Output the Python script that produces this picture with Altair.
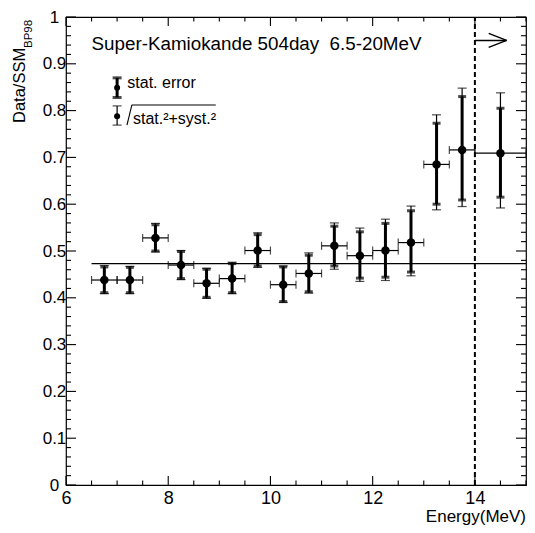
import altair as alt
import pandas as pd

# ---- data ----
energy  = [6.75, 7.25, 7.75, 8.25, 8.75, 9.25, 9.75, 10.25, 10.75, 11.25, 11.75, 12.25, 12.75, 13.25, 13.75, 14.5]
bin_lo  = [6.5, 7.0, 7.5, 8.0, 8.5, 9.0, 9.5, 10.0, 10.5, 11.0, 11.5, 12.0, 12.5, 13.0, 13.5, 14.0]
bin_hi  = [7.0, 7.5, 8.0, 8.5, 9.0, 9.5, 10.0, 10.5, 11.0, 11.5, 12.0, 12.5, 13.0, 13.5, 14.0, 15.0]
ratio   = [0.438, 0.438, 0.528, 0.470, 0.431, 0.441, 0.501, 0.428, 0.452, 0.511, 0.490, 0.501, 0.518, 0.685, 0.716, 0.709]
stat_lo = [0.411, 0.411, 0.500, 0.441, 0.401, 0.411, 0.468, 0.392, 0.413, 0.468, 0.442, 0.444, 0.455, 0.600, 0.609, 0.615]
stat_hi = [0.466, 0.465, 0.556, 0.499, 0.461, 0.473, 0.535, 0.466, 0.491, 0.553, 0.541, 0.559, 0.586, 0.773, 0.830, 0.805]
syst_lo = [0.409, 0.409, 0.498, 0.439, 0.399, 0.409, 0.465, 0.390, 0.410, 0.461, 0.435, 0.437, 0.447, 0.588, 0.595, 0.592]
syst_hi = [0.469, 0.467, 0.559, 0.501, 0.463, 0.476, 0.539, 0.468, 0.496, 0.560, 0.549, 0.568, 0.596, 0.791, 0.848, 0.838]

mean_ratio = 0.473
mean_range = [6.5, 15.0]
cut_energy = 14.0

x_major_ticks = [6, 8, 10, 12, 14]
x_minor_ticks = [6.5, 7, 7.5, 8.5, 9, 9.5, 10.5, 11, 11.5, 12.5, 13, 13.5, 14.5, 15]
y_major_ticks = [0, 0.1, 0.2, 0.3, 0.4, 0.5, 0.6, 0.7, 0.8, 0.9, 1.0]
y_minor_ticks = [round(i * 0.02, 2) for i in range(51) if i % 5 != 0]

title_text = "Super-Kamiokande 504day \u00a06.5-20MeV"
x_title = "Energy(MeV)"
y_title_main = "Data/SSM"
y_title_sub = "BP98"
legend_stat = "stat. error"
legend_syst = "stat.²+syst.²"

FONT = "Liberation Sans"
PAD_LEFT = 58
W, H = 460, 468
PAD_BOTTOM = 40

df = pd.DataFrame(dict(energy=energy, bin_lo=bin_lo, bin_hi=bin_hi, ratio=ratio,
                       stat_lo=stat_lo, stat_hi=stat_hi, syst_lo=syst_lo, syst_hi=syst_hi))

xscale = alt.Scale(domain=[6, 15], nice=False, zero=False)
yscale = alt.Scale(domain=[0, 1], nice=False, zero=False)
xaxis = alt.Axis(values=x_major_ticks, format="d", title=None, ticks=False, tickSize=0, domain=False,
                 grid=False, labelFont=FONT, labelFontSize=18, labelColor="black",
                 labelPadding=4, labelBaseline="top", labelFlush=False)
yaxis = alt.Axis(values=y_major_ticks, format=".1~f", title=None, ticks=False, tickSize=0, domain=False,
                 grid=False, labelFont=FONT, labelFontSize=17, labelColor="black",
                 labelPadding=12, labelAlign="center", labelBaseline="middle", labelFlush=False)


def X(f, **kw):
    return alt.X(f + ":Q", scale=xscale, axis=xaxis, **kw)


def Y(f, **kw):
    return alt.Y(f + ":Q", scale=yscale, axis=yaxis, **kw)


base = alt.Chart(df)

syst_bar = base.mark_rule(color="black", strokeWidth=1.2).encode(x=X("energy"), y=Y("syst_lo"), y2="syst_hi")
syst_cap_lo = base.mark_tick(color="black", orient="horizontal", size=9, thickness=1.2).encode(x=X("energy"), y=Y("syst_lo"))
syst_cap_hi = base.mark_tick(color="black", orient="horizontal", size=9, thickness=1.2).encode(x=X("energy"), y=Y("syst_hi"))
stat_bar = base.mark_rule(color="black", strokeWidth=3).encode(x=X("energy"), y=Y("stat_lo"), y2="stat_hi")
stat_cap_lo = base.mark_tick(color="black", orient="horizontal", size=8, thickness=3).encode(x=X("energy"), y=Y("stat_lo"))
stat_cap_hi = base.mark_tick(color="black", orient="horizontal", size=8, thickness=3).encode(x=X("energy"), y=Y("stat_hi"))
hbar = base.mark_rule(color="black", strokeWidth=1.2).encode(x=X("bin_lo"), x2="bin_hi", y=Y("ratio"))
hcap_lo = base.mark_tick(color="black", orient="vertical", size=8, thickness=1.2).encode(x=X("bin_lo"), y=Y("ratio"))
hcap_hi = base.mark_tick(color="black", orient="vertical", size=8, thickness=1.2).encode(x=X("bin_hi"), y=Y("ratio"))
points = base.mark_circle(color="black", opacity=1, size=72).encode(x=X("energy"), y=Y("ratio"))

mean_df = pd.DataFrame(dict(x=[mean_range[0]], x2=[mean_range[1]], y=[mean_ratio]))
mean_line = alt.Chart(mean_df).mark_rule(color="black", strokeWidth=1.3).encode(x=X("x"), x2="x2", y=Y("y"))

cut_df = pd.DataFrame(dict(x=[cut_energy], y=[0.0], y2=[1.0]))
cut_line = alt.Chart(cut_df).mark_rule(color="black", strokeWidth=2, strokeDash=[5, 3]).encode(
    x=X("x"), y=Y("y"), y2="y2")

# arrow (annotation, data space)
arrow_df = pd.DataFrame(dict(x=[14.0, 14.27, 14.27], x2=[14.62, 14.62, 14.62],
                             y=[0.95, 0.965, 0.935], y2=[0.95, 0.95, 0.95]))
arrow = alt.Chart(arrow_df).mark_rule(color="black", strokeWidth=1.5).encode(
    x=X("x"), x2="x2", y=Y("y"), y2="y2")


# ticks drawn inward on all four sides
def xticks(vals, length, top):
    d = pd.DataFrame(dict(v=vals))
    if top:
        enc = dict(y=alt.value(0), y2=alt.value(length))
    else:
        enc = dict(y=alt.value(H), y2=alt.value(H - length))
    return alt.Chart(d).mark_rule(color="black", strokeWidth=1.1).encode(x=X("v"), **enc)


def yticks(vals, length, right):
    d = pd.DataFrame(dict(v=vals))
    if right:
        enc = dict(x=alt.value(W), x2=alt.value(W - length))
    else:
        enc = dict(x=alt.value(0), x2=alt.value(length))
    return alt.Chart(d).mark_rule(color="black", strokeWidth=1.1).encode(y=Y("v"), **enc)


tick_layers = [
    xticks(x_major_ticks, 9, False), xticks(x_minor_ticks, 4.5, False),
    xticks(x_major_ticks, 9, True), xticks(x_minor_ticks, 4.5, True),
    yticks(y_major_ticks, 10, False), yticks(y_minor_ticks, 5, False),
    yticks(y_major_ticks, 10, True), yticks(y_minor_ticks, 5, True),
]

# title
title_df = pd.DataFrame(dict(x=[6.5], y=[0.9295], t=[title_text]))
title = alt.Chart(title_df).mark_text(font=FONT, fontSize=18.8, align="left", baseline="alphabetic",
                                      color="black").encode(x=X("x"), y=Y("y"), text="t:N")

# legend
leg_x = 7.0
leg_stat = pd.DataFrame(dict(x=[leg_x], y=[0.849], lo=[0.828], hi=[0.870]))
leg_syst = pd.DataFrame(dict(x=[leg_x], y=[0.788], lo=[0.769], hi=[0.810]))
leg_layers = [
    alt.Chart(leg_stat).mark_rule(color="black", strokeWidth=3).encode(x=X("x"), y=Y("lo"), y2="hi"),
    alt.Chart(leg_stat).mark_tick(color="black", orient="horizontal", size=9, thickness=3).encode(x=X("x"), y=Y("lo")),
    alt.Chart(leg_stat).mark_tick(color="black", orient="horizontal", size=9, thickness=3).encode(x=X("x"), y=Y("hi")),
    alt.Chart(leg_stat).mark_circle(color="black", opacity=1, size=36).encode(x=X("x"), y=Y("y")),
    alt.Chart(leg_syst).mark_rule(color="black", strokeWidth=1.2).encode(x=X("x"), y=Y("lo"), y2="hi"),
    alt.Chart(leg_syst).mark_tick(color="black", orient="horizontal", size=9, thickness=1.2).encode(x=X("x"), y=Y("lo")),
    alt.Chart(leg_syst).mark_tick(color="black", orient="horizontal", size=9, thickness=1.2).encode(x=X("x"), y=Y("hi")),
    alt.Chart(leg_syst).mark_circle(color="black", opacity=1, size=36).encode(x=X("x"), y=Y("y")),
]
leg_text_df = pd.DataFrame(dict(x=[7.2, 7.31], y=[0.8476, 0.771], t=[legend_stat, legend_syst]))
leg_text = alt.Chart(leg_text_df).mark_text(font=FONT, fontSize=16, align="left", baseline="alphabetic",
                                            color="black").encode(x=X("x"), y=Y("y"), text="t:N")
# radical sign of the sqrt
rad_df = pd.DataFrame(dict(x=[7.193, 7.289], x2=[7.289, 8.93], y=[0.769, 0.812], y2=[0.812, 0.812]))
radical = alt.Chart(rad_df).mark_rule(color="black", strokeWidth=1.1).encode(x=X("x"), x2="x2", y=Y("y"), y2="y2")

# axis titles
xt = alt.Chart(pd.DataFrame(dict(t=[x_title]))).mark_text(
    font=FONT, fontSize=17, align="right", baseline="alphabetic", color="black").encode(
    x=alt.value(W), y=alt.value(H + 37), text="t:N")
yt_main = alt.Chart(pd.DataFrame(dict(t=[y_title_main]))).mark_text(
    font=FONT, fontSize=16.5, align="left", baseline="alphabetic", angle=270, color="black").encode(
    x=alt.value(-41), y=alt.value(106), text="t:N")
yt_sub = alt.Chart(pd.DataFrame(dict(t=[y_title_sub]))).mark_text(
    font=FONT, fontSize=11.5, align="left", baseline="alphabetic", angle=270, color="black").encode(
    x=alt.value(-34), y=alt.value(31), text="t:N")

chart = alt.layer(
    *tick_layers, mean_line, cut_line, arrow,
    syst_bar, syst_cap_lo, syst_cap_hi, hbar, hcap_lo, hcap_hi,
    stat_bar, stat_cap_lo, stat_cap_hi, points,
    title, *leg_layers, leg_text, radical, xt, yt_main, yt_sub,
).properties(
    width=W, height=H, autosize="none",
    padding={"left": PAD_LEFT, "top": 9, "right": 1, "bottom": PAD_BOTTOM},
    background="white",
).configure_view(stroke="black", strokeWidth=1.2)

chart.save("out.html", embed_options={"renderer": "svg", "actions": False})
